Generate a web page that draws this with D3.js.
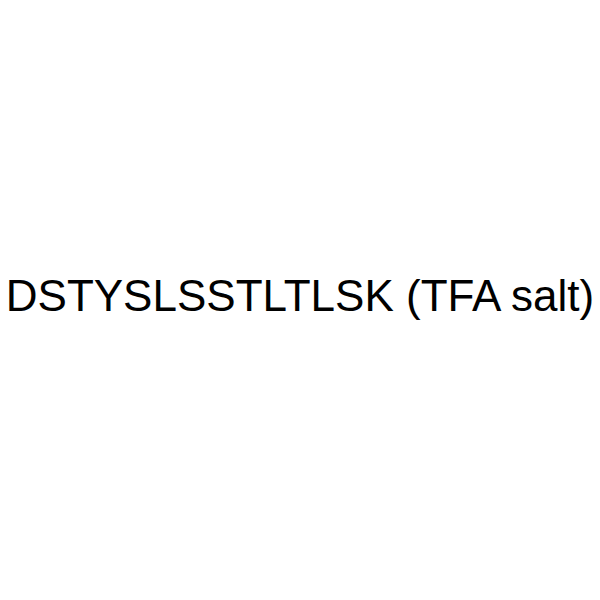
<!DOCTYPE html>
<html>
<head>
<meta charset="utf-8">
<script src="https://cdn.jsdelivr.net/npm/d3@7"></script>
<style>
  html, body { margin: 0; padding: 0; background: #fff; }
</style>
</head>
<body>
<svg id="chart"></svg>
<script>
const labels = ["DSTYSLSSTLTLSK (TFA salt)"];

const width = 600, height = 600;

const svg = d3.select("svg#chart")
    .attr("width", width)
    .attr("height", height);

svg.append("rect")
    .attr("width", width)
    .attr("height", height)
    .attr("fill", "#fff");

// compound name, centered
svg.selectAll("text.name")
    .data(labels)
    .enter().append("text")
    .attr("class", "name")
    .attr("x", width / 2)
    .attr("y", 311)
    .attr("text-anchor", "middle")
    .attr("font-family", "'Liberation Sans', Arial, sans-serif")
    .attr("font-size", 44)
    .attr("fill", "#000")
    .text(d => d);
</script>
</body>
</html>
